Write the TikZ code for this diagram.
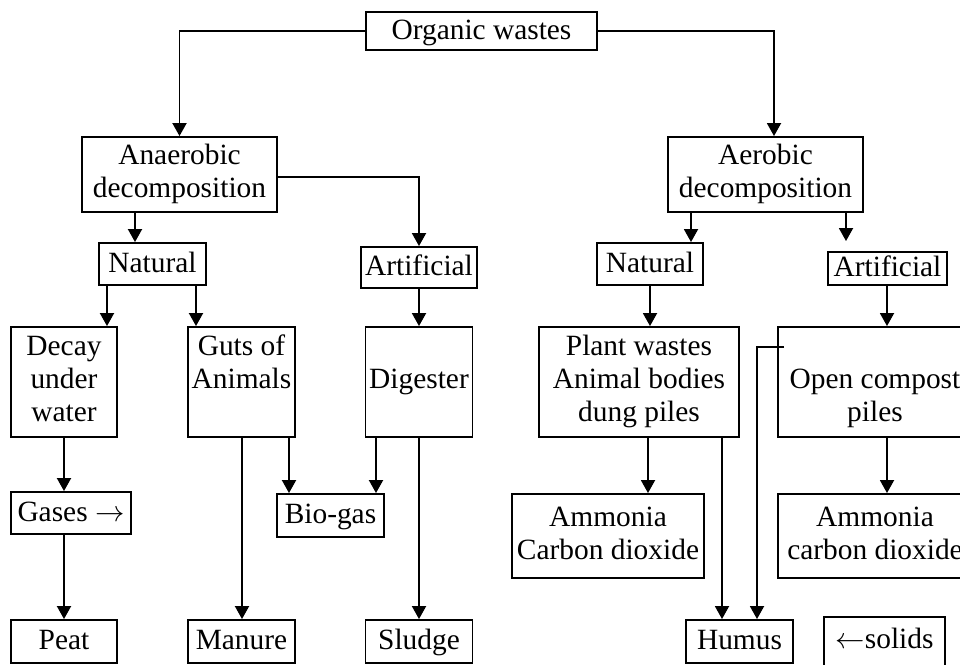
\RequirePackage{fix-cm}
\documentclass[tikz,border=0pt]{standalone}
\usepackage{fontspec}
\setmainfont{Liberation Serif}
\usetikzlibrary{arrows.meta}
\begin{document}
\begin{tikzpicture}[x=1pt,y=-1pt,
  base/.style={draw, line width=1.9pt, inner sep=0pt, align=center,
    font=\fontsize{29.4}{33}\selectfont},
  box/.style={base, text height=20pt, text depth=4pt},
  mbox/.style={base},
  arr/.style={line width=1.9pt, -{Triangle[length=13pt,width=14pt]}}]
\useasboundingbox (0,0) rectangle (960,664);
\clip (0,0) rectangle (960,664);

% top level
\node[box, minimum width=231pt, minimum height=38pt] (org) at (481.5,31) {Organic wastes};
\node[mbox, minimum width=195pt, minimum height=75pt] (ana) at (179.5,174.5) {\strut Anaerobic\\decomposition\strut};
\node[mbox, minimum width=195pt, minimum height=75pt] (aer) at (765.5,174.5) {\strut Aerobic\\decomposition\strut};

% natural / artificial
\node[box, minimum width=107pt, minimum height=42pt] (natL) at (152.5,264) {Natural};
\node[box, minimum width=116pt, minimum height=41pt] (artL) at (419,267.5) {Artificial};
\node[box, minimum width=106pt, minimum height=42pt] (natR) at (650,264) {Natural};
\node[box, minimum width=119pt, minimum height=33pt] (artR) at (887.5,268.5) {Artificial};

% processes
\node[mbox, minimum width=106pt, minimum height=110pt] (decay) at (64,382) {\strut Decay\\under\\water\strut};
\node[mbox, minimum width=107pt, minimum height=110pt] (guts) at (241.5,382) {\strut Guts of\\Animals\\\strut};
\node[mbox, minimum width=107pt, minimum height=110pt] (dig) at (419,382) {\strut Digester\strut};
\node[mbox, minimum width=200pt, minimum height=110pt] (plant) at (639,382) {\strut Plant wastes\\Animal bodies\\dung piles\strut};
\node[mbox, minimum width=194pt, minimum height=110pt] (open) at (875,382) {\strut\\Open compost\\piles\strut};

% products
\node[box, minimum width=120pt, minimum height=42pt] (gases) at (71,513) {Gases $\rightarrow$};
\node[box, minimum width=107pt, minimum height=43pt] (biogas) at (330.5,515.5) {Bio-gas};
\node[mbox, minimum width=192pt, minimum height=84pt] (ammL) at (608,536) {\strut Ammonia\\Carbon dioxide\strut};
\node[mbox, minimum width=194pt, minimum height=84pt] (ammR) at (875,536) {\strut Ammonia\\carbon dioxide\strut};

\node[box, minimum width=106pt, minimum height=43pt] (peat) at (64,641.5) {Peat};
\node[box, minimum width=107pt, minimum height=43pt] (manure) at (241.5,641.5) {Manure};
\node[box, minimum width=107pt, minimum height=43pt] (sludge) at (419,641.5) {Sludge};
\node[box, minimum width=107pt, minimum height=43pt] (humus) at (739.5,641.5) {Humus};
\node[mbox, minimum width=121pt, minimum height=82pt] (solids) at (884.5,658) {\strut$\leftarrow$solids\\\strut};

% anaerobic branch
\draw[arr] (org.west) -| (ana.north);
\draw[arr] ([xshift=-44.5pt]ana.south) -- ([xshift=-17.5pt]natL.north);
\draw[arr] ([yshift=-2.5pt]ana.east) -| (artL.north);
\draw[arr] ([xshift=-45.5pt]natL.south) -- ([xshift=43pt]decay.north);
\draw[arr] ([xshift=43.5pt]natL.south) -- ([xshift=-45.5pt]guts.north);
\draw[arr] (artL.south) -- (dig.north);
\draw[arr] (decay.south) -- (decay.south |- gases.north);
\draw[arr] ([xshift=-7pt]gases.south) -- (peat.north);
\draw[arr] ([xshift=0.5pt]guts.south) -- ([xshift=0.5pt]manure.north);
\draw[arr] ([xshift=47.5pt]guts.south) -- ([xshift=-41.5pt]biogas.north);
\draw[arr] ([xshift=-43pt]dig.south) -- ([xshift=45.5pt]biogas.north);
\draw[arr] (dig.south) -- (sludge.north);

% aerobic branch
\draw[arr] (org.east) -| ([xshift=8.5pt]aer.north);
\draw[arr] ([xshift=-74.5pt]aer.south) -- ([xshift=41pt]natR.north);
\draw[arr] ([xshift=80.5pt]aer.south) -- ([xshift=-41.5pt,yshift=10pt]artR.north);
\draw[arr] (natR.south) -- (natR.south |- plant.north);
\draw[arr] ([xshift=-0.5pt]artR.south) -- ([xshift=-0.5pt]artR.south |- open.north);
\draw[arr] ([xshift=9pt]plant.south) -- ([xshift=40pt]ammL.north);
\draw[arr] ([xshift=83pt]plant.south) -- ([xshift=-17.5pt]humus.north);
\draw[arr] ([xshift=7pt,yshift=-21pt]open.north west) -| ([xshift=17.5pt]humus.north);
\draw[arr] ([xshift=12pt]open.south) -- ([xshift=12pt]ammR.north);
\end{tikzpicture}
\end{document}
